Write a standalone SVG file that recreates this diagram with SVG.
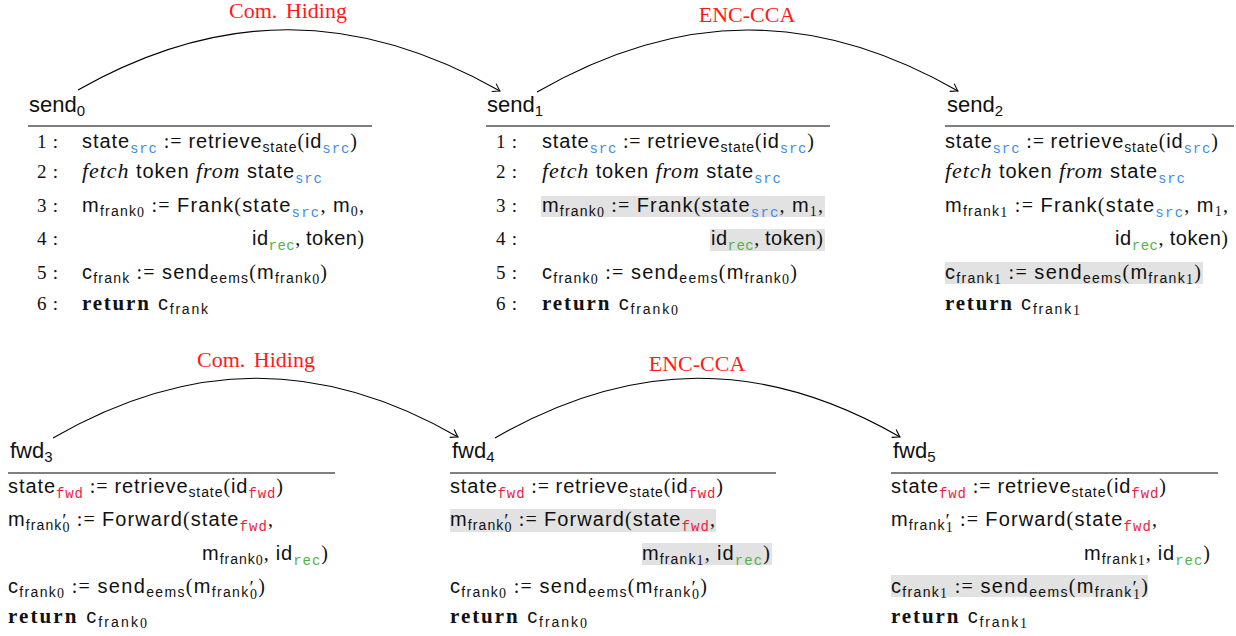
<svg xmlns="http://www.w3.org/2000/svg" width="1236" height="636" viewBox="0 0 1236 636">
<style>
.c{font-family:"Liberation Sans",Arial,sans-serif;font-size:20px;fill:#111}
.sm{font-size:14px}
.pr{font-family:"Liberation Serif","Times New Roman",serif;font-size:19px}
.mt{font-family:"Liberation Serif","Times New Roman",serif}
.tt{font-family:"Liberation Mono","Courier New",monospace;font-size:14px}
.b{fill:#3d8ee8}.g{fill:#56b04e}.r{fill:#ee1c3f}
.it{font-family:"Liberation Serif",serif;font-style:italic;font-size:22px}
.bf{font-family:"Liberation Serif",serif;font-weight:bold;font-size:21px}
.ln{font-family:"Liberation Serif","Times New Roman",serif;font-size:19px;fill:#111}
.hd{font-family:"Liberation Sans",Arial,sans-serif;font-size:22px;fill:#111}
.hs{font-size:15px}
.lbl{font-family:"Liberation Serif","Times New Roman",serif;font-size:22px;fill:#ff1a1a;text-anchor:middle}
.hl{fill:#e2e2e2}
.rule{stroke:#555;stroke-width:1.3}
.arc{fill:none;stroke:#000;stroke-width:1.1;marker-end:url(#arr)}
</style>
<defs>
<marker id="arr" viewBox="-10 -6 12 12" refX="0" refY="0" markerWidth="12" markerHeight="12" markerUnits="userSpaceOnUse" orient="auto">
<path d="M-7,-4.5 Q-2,-1 0,0 Q-2,1 -7,4.5" fill="none" stroke="#000" stroke-width="1.1"/>
</marker>
</defs>

<g id="connectors">
<path class="arc" d="M78,90 C221,9 357,10 500,91"/>
<path class="arc" d="M537,92 C680,10 815,9 958,91"/>
<path class="arc" d="M53,438 C190,359 321,358 458,437"/>
<path class="arc" d="M495,438 C632,359 763,358 900,437"/>
<text class="lbl" x="288" y="18" word-spacing="3">Com. Hiding</text>
<text class="lbl" x="747" y="22">ENC-CCA</text>
<text class="lbl" x="256" y="367" word-spacing="3">Com. Hiding</text>
<text class="lbl" x="697" y="371">ENC-CCA</text>
</g>

<g id="send0">
<text class="hd" x="29" y="112">send<tspan class="hs" dy="4">0</tspan></text>
<line class="rule" x1="28" y1="126" x2="372" y2="126"/>
<text class="ln" x="37" y="148" textLength="21">1 :</text>
<text class="ln" x="37" y="178" textLength="21">2 :</text>
<text class="ln" x="37" y="212" textLength="21">3 :</text>
<text class="ln" x="37" y="245" textLength="21">4 :</text>
<text class="ln" x="37" y="279" textLength="21">5 :</text>
<text class="ln" x="37" y="310" textLength="21">6 :</text>
<text class="c" x="82" y="148" textLength="275">state<tspan class="tt b" dy="5">src</tspan><tspan class="mt" dy="-5"> := </tspan>retrieve<tspan class="sm" dy="4">state</tspan><tspan class="mt" dy="-4">(</tspan>id<tspan class="tt b" dy="5">src</tspan><tspan class="mt" dy="-5">)</tspan></text>
<text class="c" x="82" y="178" textLength="240"><tspan class="it">fetch</tspan> token <tspan class="it">from</tspan> state<tspan class="tt b" dy="5">src</tspan></text>
<text class="c" x="82" y="212" textLength="282">m<tspan class="sm" dy="4">frank</tspan><tspan class="sm mt" dy="1">0</tspan><tspan class="mt" dy="-5"> := </tspan>Frank<tspan class="mt">(</tspan>state<tspan class="tt b" dy="5">src</tspan><tspan class="mt" dy="-5">, </tspan>m<tspan class="sm mt" dy="4">0</tspan><tspan class="mt" dy="-4">,</tspan></text>
<text class="c" x="364" y="245" text-anchor="end" textLength="112">id<tspan class="tt g" dy="5">rec</tspan><tspan class="mt" dy="-5">, </tspan>token<tspan class="mt">)</tspan></text>
<text class="c" x="82" y="279" textLength="245">c<tspan class="sm" dy="4">frank</tspan><tspan class="mt" dy="-4"> := </tspan>send<tspan class="sm" dy="4">eems</tspan><tspan class="mt" dy="-4">(</tspan>m<tspan class="sm" dy="4">frank</tspan><tspan class="sm mt" dy="1">0</tspan><tspan class="mt" dy="-5">)</tspan></text>
<text class="c" x="82" y="310" textLength="126"><tspan class="bf">return</tspan> c<tspan class="sm" dy="4">frank</tspan></text>
</g>

<g id="send1">
<rect class="hl" x="541" y="196" width="284" height="21"/>
<rect class="hl" x="710" y="229" width="115" height="22"/>
<text class="hd" x="487" y="112">send<tspan class="hs" dy="4">1</tspan></text>
<line class="rule" x1="486" y1="126" x2="830" y2="126"/>
<text class="ln" x="496" y="148" textLength="21">1 :</text>
<text class="ln" x="496" y="178" textLength="21">2 :</text>
<text class="ln" x="496" y="212" textLength="21">3 :</text>
<text class="ln" x="496" y="245" textLength="21">4 :</text>
<text class="ln" x="496" y="279" textLength="21">5 :</text>
<text class="ln" x="496" y="310" textLength="21">6 :</text>
<text class="c" x="542" y="148" textLength="272">state<tspan class="tt b" dy="5">src</tspan><tspan class="mt" dy="-5"> := </tspan>retrieve<tspan class="sm" dy="4">state</tspan><tspan class="mt" dy="-4">(</tspan>id<tspan class="tt b" dy="5">src</tspan><tspan class="mt" dy="-5">)</tspan></text>
<text class="c" x="542" y="178" textLength="239"><tspan class="it">fetch</tspan> token <tspan class="it">from</tspan> state<tspan class="tt b" dy="5">src</tspan></text>
<text class="c" x="542" y="212" textLength="281">m<tspan class="sm" dy="4">frank</tspan><tspan class="sm mt" dy="1">0</tspan><tspan class="mt" dy="-5"> := </tspan>Frank<tspan class="mt">(</tspan>state<tspan class="tt b" dy="5">src</tspan><tspan class="mt" dy="-5">, </tspan>m<tspan class="sm mt" dy="4">1</tspan><tspan class="mt" dy="-4">,</tspan></text>
<text class="c" x="823" y="245" text-anchor="end" textLength="112">id<tspan class="tt g" dy="5">rec</tspan><tspan class="mt" dy="-5">, </tspan>token<tspan class="mt">)</tspan></text>
<text class="c" x="542" y="279" textLength="255">c<tspan class="sm" dy="4">frank</tspan><tspan class="sm mt" dy="1">0</tspan><tspan class="mt" dy="-5"> := </tspan>send<tspan class="sm" dy="4">eems</tspan><tspan class="mt" dy="-4">(</tspan>m<tspan class="sm" dy="4">frank</tspan><tspan class="sm mt" dy="1">0</tspan><tspan class="mt" dy="-5">)</tspan></text>
<text class="c" x="542" y="310" textLength="136"><tspan class="bf">return</tspan> c<tspan class="sm" dy="4">frank</tspan><tspan class="sm mt" dy="1">0</tspan></text>
</g>

<g id="send2">
<rect class="hl" x="945" y="262" width="258" height="22"/>
<text class="hd" x="947" y="112">send<tspan class="hs" dy="4">2</tspan></text>
<line class="rule" x1="945" y1="126" x2="1234" y2="126"/>
<text class="c" x="945" y="148" textLength="273">state<tspan class="tt b" dy="5">src</tspan><tspan class="mt" dy="-5"> := </tspan>retrieve<tspan class="sm" dy="4">state</tspan><tspan class="mt" dy="-4">(</tspan>id<tspan class="tt b" dy="5">src</tspan><tspan class="mt" dy="-5">)</tspan></text>
<text class="c" x="945" y="178" textLength="240"><tspan class="it">fetch</tspan> token <tspan class="it">from</tspan> state<tspan class="tt b" dy="5">src</tspan></text>
<text class="c" x="945" y="212" textLength="283">m<tspan class="sm" dy="4">frank</tspan><tspan class="sm mt" dy="1">1</tspan><tspan class="mt" dy="-5"> := </tspan>Frank<tspan class="mt">(</tspan>state<tspan class="tt b" dy="5">src</tspan><tspan class="mt" dy="-5">, </tspan>m<tspan class="sm mt" dy="4">1</tspan><tspan class="mt" dy="-4">,</tspan></text>
<text class="c" x="1228" y="245" text-anchor="end" textLength="113">id<tspan class="tt g" dy="5">rec</tspan><tspan class="mt" dy="-5">, </tspan>token<tspan class="mt">)</tspan></text>
<text class="c" x="945" y="279" textLength="256">c<tspan class="sm" dy="4">frank</tspan><tspan class="sm mt" dy="1">1</tspan><tspan class="mt" dy="-5"> := </tspan>send<tspan class="sm" dy="4">eems</tspan><tspan class="mt" dy="-4">(</tspan>m<tspan class="sm" dy="4">frank</tspan><tspan class="sm mt" dy="1">1</tspan><tspan class="mt" dy="-5">)</tspan></text>
<text class="c" x="945" y="310" textLength="135"><tspan class="bf">return</tspan> c<tspan class="sm" dy="4">frank</tspan><tspan class="sm mt" dy="1">1</tspan></text>
</g>

<g id="fwd3">
<text class="hd" x="10" y="458">fwd<tspan class="hs" dy="4">3</tspan></text>
<line class="rule" x1="8" y1="473" x2="335" y2="473"/>
<text class="c" x="8" y="493" textLength="275">state<tspan class="tt r" dy="5">fwd</tspan><tspan class="mt" dy="-5"> := </tspan>retrieve<tspan class="sm" dy="4">state</tspan><tspan class="mt" dy="-4">(</tspan>id<tspan class="tt r" dy="5">fwd</tspan><tspan class="mt" dy="-5">)</tspan></text>
<text class="c" x="8" y="526" textLength="265">m<tspan class="sm" dy="4">frank</tspan><tspan class="pr" dy="-3">′</tspan><tspan class="sm mt" dx="-5" dy="5">0</tspan><tspan class="mt" dy="-6"> := </tspan>Forward<tspan class="mt">(</tspan>state<tspan class="tt r" dy="5">fwd</tspan><tspan class="mt" dy="-5">,</tspan></text>
<text class="c" x="328" y="560" text-anchor="end" textLength="126">m<tspan class="sm" dy="4">frank</tspan><tspan class="sm mt" dy="1">0</tspan><tspan class="mt" dy="-5">, </tspan>id<tspan class="tt g" dy="5">rec</tspan><tspan class="mt" dy="-5">)</tspan></text>
<text class="c" x="8" y="593" textLength="257">c<tspan class="sm" dy="4">frank</tspan><tspan class="sm mt" dy="1">0</tspan><tspan class="mt" dy="-5"> := </tspan>send<tspan class="sm" dy="4">eems</tspan><tspan class="mt" dy="-4">(</tspan>m<tspan class="sm" dy="4">frank</tspan><tspan class="pr" dy="-3">′</tspan><tspan class="sm mt" dx="-5" dy="5">0</tspan><tspan class="mt" dy="-6">)</tspan></text>
<text class="c" x="8" y="623" textLength="139"><tspan class="bf">return</tspan> c<tspan class="sm" dy="4">frank</tspan><tspan class="sm mt" dy="1">0</tspan></text>
</g>

<g id="fwd4">
<rect class="hl" x="450" y="509" width="266" height="23"/>
<rect class="hl" x="642" y="543" width="130" height="22"/>
<text class="hd" x="452" y="458">fwd<tspan class="hs" dy="4">4</tspan></text>
<line class="rule" x1="450" y1="473" x2="776" y2="473"/>
<text class="c" x="450" y="493" textLength="273">state<tspan class="tt r" dy="5">fwd</tspan><tspan class="mt" dy="-5"> := </tspan>retrieve<tspan class="sm" dy="4">state</tspan><tspan class="mt" dy="-4">(</tspan>id<tspan class="tt r" dy="5">fwd</tspan><tspan class="mt" dy="-5">)</tspan></text>
<text class="c" x="450" y="526" textLength="265">m<tspan class="sm" dy="4">frank</tspan><tspan class="pr" dy="-3">′</tspan><tspan class="sm mt" dx="-5" dy="5">0</tspan><tspan class="mt" dy="-6"> := </tspan>Forward<tspan class="mt">(</tspan>state<tspan class="tt r" dy="5">fwd</tspan><tspan class="mt" dy="-5">,</tspan></text>
<text class="c" x="770" y="560" text-anchor="end" textLength="128">m<tspan class="sm" dy="4">frank</tspan><tspan class="sm mt" dy="1">1</tspan><tspan class="mt" dy="-5">, </tspan>id<tspan class="tt g" dy="5">rec</tspan><tspan class="mt" dy="-5">)</tspan></text>
<text class="c" x="450" y="593" textLength="257">c<tspan class="sm" dy="4">frank</tspan><tspan class="sm mt" dy="1">0</tspan><tspan class="mt" dy="-5"> := </tspan>send<tspan class="sm" dy="4">eems</tspan><tspan class="mt" dy="-4">(</tspan>m<tspan class="sm" dy="4">frank</tspan><tspan class="pr" dy="-3">′</tspan><tspan class="sm mt" dx="-5" dy="5">0</tspan><tspan class="mt" dy="-6">)</tspan></text>
<text class="c" x="450" y="623" textLength="137"><tspan class="bf">return</tspan> c<tspan class="sm" dy="4">frank</tspan><tspan class="sm mt" dy="1">0</tspan></text>
</g>

<g id="fwd5">
<rect class="hl" x="891" y="575" width="257" height="22"/>
<text class="hd" x="893" y="458">fwd<tspan class="hs" dy="4">5</tspan></text>
<line class="rule" x1="891" y1="473" x2="1218" y2="473"/>
<text class="c" x="891" y="493" textLength="275">state<tspan class="tt r" dy="5">fwd</tspan><tspan class="mt" dy="-5"> := </tspan>retrieve<tspan class="sm" dy="4">state</tspan><tspan class="mt" dy="-4">(</tspan>id<tspan class="tt r" dy="5">fwd</tspan><tspan class="mt" dy="-5">)</tspan></text>
<text class="c" x="891" y="526" textLength="266">m<tspan class="sm" dy="4">frank</tspan><tspan class="pr" dy="-3">′</tspan><tspan class="sm mt" dx="-5" dy="5">1</tspan><tspan class="mt" dy="-6"> := </tspan>Forward<tspan class="mt">(</tspan>state<tspan class="tt r" dy="5">fwd</tspan><tspan class="mt" dy="-5">,</tspan></text>
<text class="c" x="1210" y="560" text-anchor="end" textLength="126">m<tspan class="sm" dy="4">frank</tspan><tspan class="sm mt" dy="1">1</tspan><tspan class="mt" dy="-5">, </tspan>id<tspan class="tt g" dy="5">rec</tspan><tspan class="mt" dy="-5">)</tspan></text>
<text class="c" x="891" y="593" textLength="257">c<tspan class="sm" dy="4">frank</tspan><tspan class="sm mt" dy="1">1</tspan><tspan class="mt" dy="-5"> := </tspan>send<tspan class="sm" dy="4">eems</tspan><tspan class="mt" dy="-4">(</tspan>m<tspan class="sm" dy="4">frank</tspan><tspan class="pr" dy="-3">′</tspan><tspan class="sm mt" dx="-5" dy="5">1</tspan><tspan class="mt" dy="-6">)</tspan></text>
<text class="c" x="891" y="623" textLength="136"><tspan class="bf">return</tspan> c<tspan class="sm" dy="4">frank</tspan><tspan class="sm mt" dy="1">1</tspan></text>
</g>
</svg>
